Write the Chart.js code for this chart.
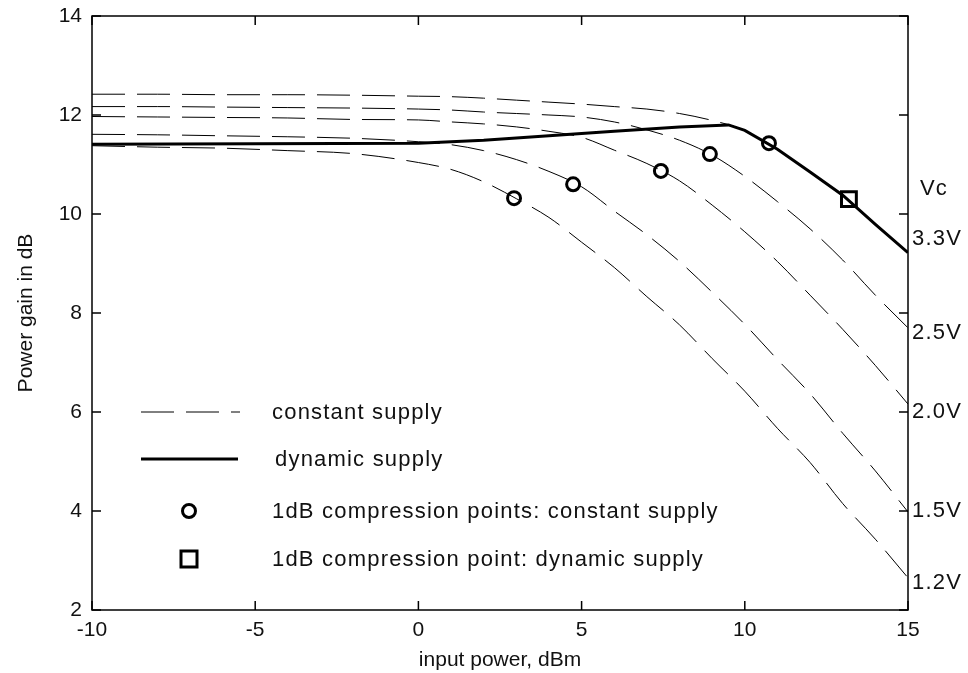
<!DOCTYPE html>
<html lang="en">
<head>
<meta charset="UTF-8">
<title>Power gain vs input power</title>
<script src="https://cdn.jsdelivr.net/npm/chart.js"></script>
<style>
  html, body { margin: 0; padding: 0; background: #fff; }
  #gainChart { display: block; }
</style>
</head>
<body>
<canvas id="gainChart" width="968" height="673"></canvas>
<script>
// input power (dBm) for the constant supply curves
const inputPower = [-10, -8, -6, -4, -2, 0, 1, 2, 3, 4, 5, 6, 7, 8, 9, 10, 11, 12, 13, 14, 15];

// gain (dB) for each collector voltage
const gain33 = [12.42, 12.42, 12.41, 12.41, 12.40, 12.38, 12.37, 12.34, 12.30, 12.26, 12.22, 12.17, 12.12, 12.03, 11.89, 11.69, 11.31, 10.84, 10.38, 9.79, 9.22];
const gain25 = [12.17, 12.17, 12.16, 12.15, 12.14, 12.12, 12.10, 12.06, 12.03, 12.00, 11.96, 11.86, 11.70, 11.49, 11.19, 10.76, 10.25, 9.70, 9.07, 8.36, 7.70];
const gain20 = [11.97, 11.96, 11.95, 11.94, 11.91, 11.90, 11.86, 11.82, 11.76, 11.67, 11.55, 11.29, 11.02, 10.67, 10.18, 9.64, 9.04, 8.36, 7.67, 6.94, 6.16];
const gain15 = [11.61, 11.60, 11.58, 11.56, 11.53, 11.46, 11.40, 11.28, 11.10, 10.86, 10.55, 10.06, 9.58, 9.04, 8.42, 7.77, 7.06, 6.37, 5.57, 4.81, 3.98];
const gain12 = [11.38, 11.35, 11.33, 11.28, 11.22, 11.04, 10.90, 10.65, 10.31, 9.93, 9.43, 8.92, 8.33, 7.76, 7.08, 6.42, 5.67, 4.98, 4.15, 3.43, 2.65];
const vcLabels = ['3.3V', '2.5V', '2.0V', '1.5V', '1.2V'];

// dynamic supply curve
const dynamicPower = [-10, -5, 0, 2, 4, 6, 8, 9.5, 10, 11, 12, 13, 14, 15];
const dynamicGain = [11.41, 11.42, 11.43, 11.49, 11.58, 11.67, 11.76, 11.80, 11.69, 11.31, 10.85, 10.38, 9.79, 9.22];

// 1dB compression points
const cpPower = [2.93, 4.74, 7.43, 8.93, 10.74];
const cpGain = [10.32, 10.60, 10.87, 11.21, 11.43];
const dynCpPower = [13.19];
const dynCpGain = [10.30];

const legendLabels = ['constant supply', 'dynamic supply', '1dB compression points: constant supply', '1dB compression point: dynamic supply'];

const FONT = '"Liberation Sans", Arial, Helvetica, sans-serif';
const INK = '#111';

function pts(xs, ys) {
    return xs.map((v, i) => ({ x: v, y: ys[i] }));
}

function dashedSet(ys) {
    return {
        data: pts(inputPower, ys),
        borderColor: '#000',
        borderWidth: 1,
        borderDash: [33, 12],
        cubicInterpolationMode: 'monotone',
        pointRadius: 0,
        fill: false,
        order: 3
    };
}

// box with inward ticks on all four sides (matlab style)
const framePlugin = {
    id: 'frame',
    afterDatasetsDraw(chart) {
        const { ctx, chartArea: a, scales: { x, y } } = chart;
        const len = 9;
        ctx.save();
        ctx.strokeStyle = '#000';
        ctx.lineWidth = 1.5;
        ctx.strokeRect(a.left, a.top, a.right - a.left, a.bottom - a.top);
        ctx.beginPath();
        x.ticks.forEach(t => {
            const px = x.getPixelForValue(t.value);
            ctx.moveTo(px, a.bottom); ctx.lineTo(px, a.bottom - len);
            ctx.moveTo(px, a.top); ctx.lineTo(px, a.top + len);
        });
        y.ticks.forEach(t => {
            const py = y.getPixelForValue(t.value);
            ctx.moveTo(a.left, py); ctx.lineTo(a.left + len, py);
            ctx.moveTo(a.right, py); ctx.lineTo(a.right - len, py);
        });
        ctx.stroke();
        ctx.restore();
    }
};

// legend inside the plot + Vc labels on the right
const notesPlugin = {
    id: 'notes',
    afterDraw(chart, args, opts) {
        const { ctx, chartArea: a, scales: { y } } = chart;
        ctx.save();
        ctx.font = '22px ' + FONT;
        ctx.letterSpacing = '1.2px';
        ctx.fillStyle = INK;
        ctx.textBaseline = 'middle';
        ctx.textAlign = 'left';

        const rows = [396, 443, 495, 543].map(v => a.top + v);
        const x0 = a.left + 49, x1 = a.left + 148, mx = a.left + 97, tx = a.left + 180;

        ctx.strokeStyle = '#000';
        // dashed sample
        ctx.lineWidth = 1;
        ctx.setLineDash([33, 12]);
        ctx.beginPath(); ctx.moveTo(x0, rows[0]); ctx.lineTo(x1, rows[0]); ctx.stroke();
        ctx.setLineDash([]);
        // solid sample
        ctx.lineWidth = 3;
        ctx.beginPath(); ctx.moveTo(x0, rows[1]); ctx.lineTo(x1 - 2, rows[1]); ctx.stroke();
        // circle
        ctx.lineWidth = 3;
        ctx.beginPath(); ctx.arc(mx, rows[2], 6.5, 0, Math.PI * 2); ctx.stroke();
        // square
        ctx.lineWidth = 3;
        ctx.strokeRect(mx - 8, rows[3] - 8, 16, 16);

        legendLabels.forEach((t, i) => ctx.fillText(t, tx + (i === 1 ? 3 : 0), rows[i] + 1));

        // supply voltage labels
        const lx = a.right + 4;
        ctx.fillText('Vc', lx + 8, y.getPixelForValue(opts.vcAt));
        vcLabels.forEach((t, i) => ctx.fillText(t, lx, y.getPixelForValue(opts.labelAt[i])));
        ctx.restore();
    }
};

new Chart(document.getElementById('gainChart'), {
    type: 'line',
    data: {
        datasets: [
            {
                data: pts(cpPower, cpGain),
                showLine: false,
                pointStyle: 'circle',
                pointRadius: 6.5,
                pointBorderWidth: 3,
                pointBorderColor: '#000',
                pointBackgroundColor: 'rgba(0,0,0,0)',
                order: 1
            },
            {
                data: pts(dynCpPower, dynCpGain),
                showLine: false,
                pointStyle: 'rect',
                pointRadius: 10.5,
                pointBorderWidth: 3,
                pointBorderColor: '#000',
                pointBackgroundColor: 'rgba(0,0,0,0)',
                order: 1
            },
            {
                data: pts(dynamicPower, dynamicGain),
                borderColor: '#000',
                borderWidth: 3,
                pointRadius: 0,
                tension: 0,
                fill: false,
                order: 2
            },
            dashedSet(gain33),
            dashedSet(gain25),
            dashedSet(gain20),
            dashedSet(gain15),
            dashedSet(gain12)
        ]
    },
    options: {
        responsive: false,
        animation: false,
        devicePixelRatio: 1,
        layout: { padding: { top: 16, right: 60, bottom: 0, left: 0 } },
        plugins: {
            legend: { display: false },
            tooltip: { enabled: false },
            notes: { vcAt: 10.5, labelAt: [9.5, 7.6, 6.0, 4.0, 2.55] }
        },
        scales: {
            x: {
                type: 'linear',
                min: -10,
                max: 15,
                grid: { display: false, drawTicks: false },
                border: { display: false },
                ticks: { stepSize: 5, padding: 8, color: INK, font: { family: FONT, size: 21 } },
                title: { display: true, text: 'input power, dBm', color: INK, font: { family: FONT, size: 21 }, padding: { top: 0, bottom: 0 } },
                afterFit(s) { s.height = 63; s.paddingLeft = 0; s.paddingRight = 0; }
            },
            y: {
                type: 'linear',
                min: 2,
                max: 14,
                grid: { display: false, drawTicks: false },
                border: { display: false },
                ticks: { stepSize: 2, padding: 10, color: INK, font: { family: FONT, size: 21 } },
                title: { display: true, text: 'Power gain in dB', color: INK, font: { family: FONT, size: 21 }, padding: { top: 14, bottom: 0 } },
                afterFit(s) { s.width = 92; s.paddingTop = 0; s.paddingBottom = 0; }
            }
        }
    },
    plugins: [framePlugin, notesPlugin]
});
</script>
</body>
</html>
